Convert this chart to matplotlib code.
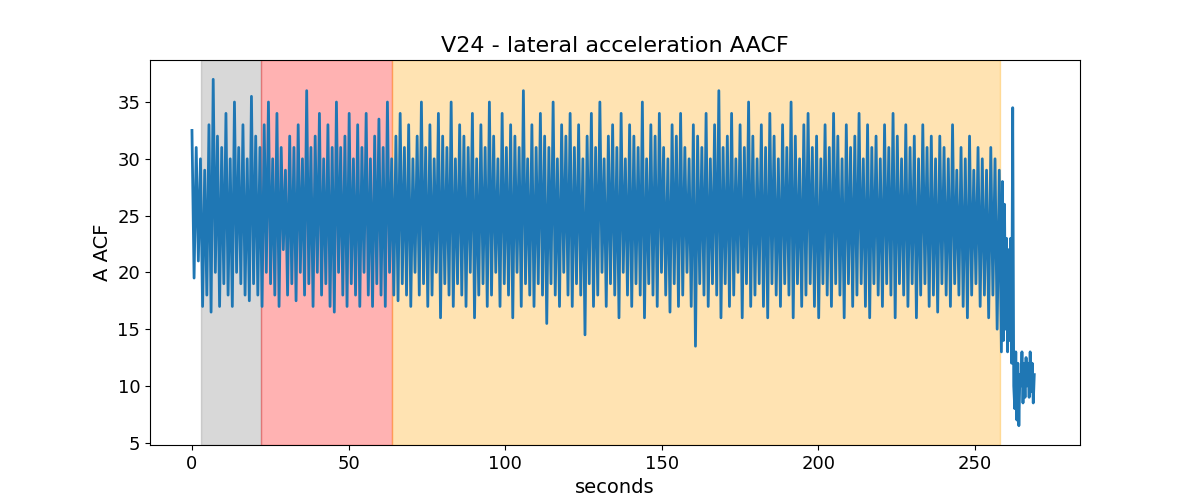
import numpy as np
import matplotlib
matplotlib.use("Agg")
import matplotlib.pyplot as plt

# values (alternating peaks/troughs)
main_str = """
32.5 19.5 31 21 30 17 29 18 33 16.5 37 20 32 17 31 19 34 18 30 17 35 20 31 19 33 18
30 17.5 35.5 19 32 18 31 17 33 20 35 19 30 18 34 17 31 22 29 18 32 19 31 17.5 33 20
30 18 36 19 31 17 32 20 34 18 30 19 33 17 31 16.5 35 20 31 18 32 17 34 19 30 18 33 17
31 20 34 18 30 17 32 19 33.5 18 31 17 35 20 30 18 32 17.5 34 19 31 18 33 17 30 20 32 18
35 19 31 17 33 18 30 20 34 16 32 19 31 18 35 17 30 19 33 18 32 17 31 20 34 16 30 18
33 19 31 17 35 18 32 20 30 17 34 19 31 18 33 16 32 20 31 17 36 19 30 18 33 17 31 19 34
18 32 15.5 31 19 35 18 30 17 33 20 32 18 34 17 31 19 33 18 30 14.5 32 19 34 17 31 18
35 20 30 17 32 19 33 18 31 16 34 20 30 18 33 17 32 19 31 18 35 16 30 19 33 18 32 17
34 20 31 18 30 16.5 33 19 32 17 34 18 31 20 30 17 33 13.5 32 19 31 18 34 17 30 19 33 18
36 16 31 19 32 17 34 18 30 20 33 16 31 19 35 17 32 18 30 19 33 17 31 16 34 19 32 18
30 17 33 19 31 18 35 16 32 19 30 17 33 18 34 19 31 17 32 16 30 19 33 18 31 17 34 19 32
18 30 16 33 19 31 17 32 18 34 19 30 17 33 16 31 19 32 18 30 17 33 19 31 18 34 16 32 19
30 18 33 17 31 19 32 16 30 18 33 19 31 17 32 18 30 16.5 32 19 31 18 30 17 33 19 29 18
31 17 30 16 32 18 29 19 31 17 30 18 29 16 31 18 30 15 29 13
"""
tail_str = """
28 14 26 15 23 13 22 14 23 12 34.5 10 8 13 7 12 6.5 11 10 13 8.5 12 9 12.5 10 12 9 13
9.5 12 8.5 11
"""
main_vals = [float(v) for v in main_str.split()]
tail_vals = [float(v) for v in tail_str.split()]
main_end = 258.5
tail_end = 269.0
spans = [(3.0, 22.0, "grey"), (22.0, 64.0, "red"), (64.0, 258.0, "orange")]

t_main = np.linspace(0, main_end, len(main_vals))
t_tail = np.linspace(main_end, tail_end, len(tail_vals) + 1)[1:]
t = np.concatenate([t_main, t_tail])
aacf = main_vals + tail_vals

fig, ax = plt.subplots(figsize=(12, 5), dpi=100)
for a, b, c in spans:
    ax.axvspan(a, b, color=c, alpha=0.3)
ax.plot(t, aacf, color="#1f77b4", lw=2)
ax.set_title("V24 - lateral acceleration AACF", fontsize=16)
ax.set_xlabel("seconds", fontsize=14)
ax.set_ylabel("A ACF", fontsize=14)
ax.tick_params(labelsize=13)
ax.set_xlim(-13.4, 283.6)
ax.set_ylim(4.8, 38.7)
ax.set_yticks([5, 10, 15, 20, 25, 30, 35])
fig.savefig("out.png")
